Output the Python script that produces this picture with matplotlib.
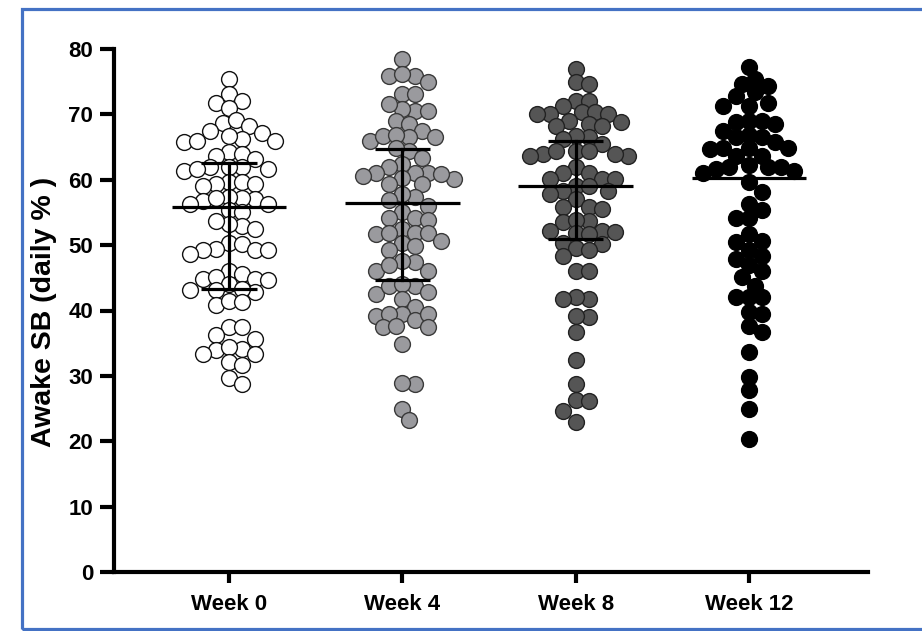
import numpy as np
import matplotlib
matplotlib.use("Agg")
import matplotlib.pyplot as plt
from matplotlib.patches import Rectangle

categories = ["Week 0", "Week 4", "Week 8", "Week 12"]

week0 = [75.4, 73.1, 72.1, 71.8, 71.0, 68.7, 69.1, 68.2, 67.4, 67.2, 66.0, 65.7,
         66.2, 66.7, 66.0, 64.2, 64.0, 63.7, 63.2, 61.9, 61.4, 61.9, 61.6, 61.6,
         62.0, 59.6, 59.3, 59.1, 59.6, 59.3, 57.0, 57.2, 56.8, 57.3, 57.2, 56.3,
         56.3, 55.3, 55.0, 53.0, 53.2, 52.5, 53.7, 50.4, 50.2, 49.2, 49.4, 49.2,
         49.2, 48.7, 46.1, 45.6, 44.8, 44.8, 45.1, 44.6, 44.1, 42.8, 43.3, 43.1,
         43.1, 40.8, 41.5, 41.3, 37.4, 37.4, 36.2, 35.7, 33.9, 34.1, 34.4, 33.4,
         33.4, 32.1, 31.6, 29.6, 28.8]

week4 = [78.4, 75.9, 75.9, 76.2, 74.9, 73.1, 73.1, 70.5, 70.8, 71.6, 70.5, 69.0,
         68.5, 67.5, 66.5, 66.5, 66.0, 66.7, 66.9, 64.4, 64.9, 63.4, 61.1, 61.1,
         62.4, 61.9, 61.1, 60.1, 60.6, 60.3, 60.9, 59.3, 59.3, 57.3, 57.8, 56.9,
         56.0, 55.0, 54.2, 54.2, 53.9, 52.5, 51.7, 51.9, 51.8, 51.8, 50.4, 50.6,
         49.2, 49.9, 46.1, 47.4, 47.6, 46.1, 47.0, 43.8, 42.5, 42.8, 43.8, 44.1,
         41.8, 40.5, 39.5, 38.5, 39.2, 39.5, 39.5, 37.4, 37.4, 37.6, 34.9, 28.8,
         28.9, 25.0, 23.2]

week8 = [76.9, 74.9, 74.6, 72.1, 72.1, 71.3, 70.3, 70.3, 70.0, 70.0, 70.0, 68.8,
         69.0, 68.5, 68.2, 68.2, 66.5, 66.7, 66.3, 65.4, 64.4, 63.9, 64.4, 63.6,
         63.6, 64.4, 63.9, 61.9, 61.1, 61.1, 59.1, 60.1, 59.0, 60.1, 60.1, 58.3,
         57.8, 58.3, 57.0, 55.8, 55.8, 55.6, 53.5, 53.7, 53.9, 52.2, 52.2, 52.0,
         51.8, 51.7, 50.4, 49.6, 50.1, 49.2, 48.4, 46.1, 46.1, 41.8, 42.0, 41.8,
         39.0, 39.2, 36.7, 32.4, 28.8, 26.3, 26.1, 24.7, 22.9]

week12 = [77.2, 74.6, 75.4, 74.4, 73.4, 71.3, 71.3, 71.8, 72.8, 68.5, 68.8, 69.0,
          69.0, 65.7, 66.5, 66.9, 67.5, 66.5, 63.7, 64.9, 64.9, 64.7, 64.9, 63.7,
          61.9, 61.6, 61.9, 62.2, 61.9, 61.4, 61.0, 59.6, 58.1, 56.3, 54.2, 54.2,
          55.3, 50.7, 51.7, 50.5, 49.2, 47.9, 48.4, 46.9, 45.1, 46.1, 43.8, 42.0,
          42.0, 42.0, 39.7, 39.5, 37.7, 36.7, 33.6, 29.8, 27.8, 25.0, 20.4]

medians = [55.8, 56.5, 59.0, 60.3]
q1 = [43.3, 44.7, 50.9, None]   # week 12 interval hidden by the points
q3 = [62.6, 64.7, 65.9, None]

yticks = [0, 10, 20, 30, 40, 50, 60, 70, 80]
ylabel = "Awake SB (daily % )"

groups = [week0, week4, week8, week12]
faces = ["white", "#9a9a9e", "#555555", "black"]
edges = ["#111111", "#3a3a3a", "#222222", "black"]

W, H = 922, 631
fig = plt.figure(figsize=(W / 100, H / 100), dpi=100)
ax = fig.add_axes([114 / W, (H - 572) / H, (868 - 114) / W, (572 - 49) / H])
ax.set_xlim(-0.6636, 3.687)
ax.set_ylim(0, 80)

bbox = ax.get_window_extent()
ppx = bbox.width / (3.687 + 0.6636)
ppy = bbox.height / 80.0


def swarm_offsets(vals, step_px=6.5, dist_px=13.0):
    vals = np.asarray(vals, dtype=float)
    order = np.argsort(-vals)
    placed = []
    offs = np.zeros(len(vals))
    cands = [0]
    for j in range(1, 40):
        cands += [j, -j]
    for i in order:
        y = vals[i] * ppy
        xsel = 0.0
        for c in cands:
            x = c * step_px
            if all((x - px) ** 2 + (y - py) ** 2 >= dist_px ** 2 for px, py in placed):
                xsel = x
                break
        placed.append((xsel, y))
        offs[i] = xsel / ppx
    return offs


for gi, vals in enumerate(groups):
    offs = swarm_offsets(vals)
    ax.scatter(gi + offs, vals, s=130, facecolor=faces[gi], edgecolor=edges[gi],
               linewidth=1.0, zorder=3)

for gi in range(len(categories)):
    ax.plot([gi - 0.33, gi + 0.33], [medians[gi]] * 2, color="black", lw=2.3,
            solid_capstyle="butt", zorder=5)
    if q1[gi] is None or q3[gi] is None:
        continue
    ax.plot([gi, gi], [q1[gi], q3[gi]], color="black", lw=2.3, zorder=5)
    for q in (q1[gi], q3[gi]):
        ax.plot([gi - 0.16, gi + 0.16], [q, q], color="black", lw=2.3,
                solid_capstyle="butt", zorder=5)

for s in ("top", "right"):
    ax.spines[s].set_visible(False)
for s in ("left", "bottom"):
    ax.spines[s].set_linewidth(3.0)
ax.spines["left"].set_bounds(0, 80)

ax.set_yticks(yticks)
ax.set_yticklabels([str(t) for t in yticks], fontfamily="Liberation Sans",
                   fontweight="bold", fontsize=16)
ax.set_xticks(range(len(categories)))
ax.set_xticklabels(categories, fontfamily="Liberation Sans", fontweight="bold",
                   fontsize=16)
ax.tick_params(axis="y", length=10, width=3.0, pad=5)
ax.tick_params(axis="x", length=8, width=3.0, pad=8)
ax.set_ylabel(ylabel, fontfamily="Liberation Sans", fontweight="bold",
              fontsize=20.5)
ax.yaxis.label.set_verticalalignment("center")
ax.yaxis.set_label_coords((44 - 114) / (868 - 114), (572 - 312) / (572 - 49))

fig.patches.append(Rectangle((22 / W, 2.5 / H), 1.2, (628.5 - 8.5) / H,
                             transform=fig.transFigure, fill=False,
                             edgecolor="#4472C4", linewidth=2.3, zorder=0))

fig.savefig("out.png", dpi=100, facecolor="white")
